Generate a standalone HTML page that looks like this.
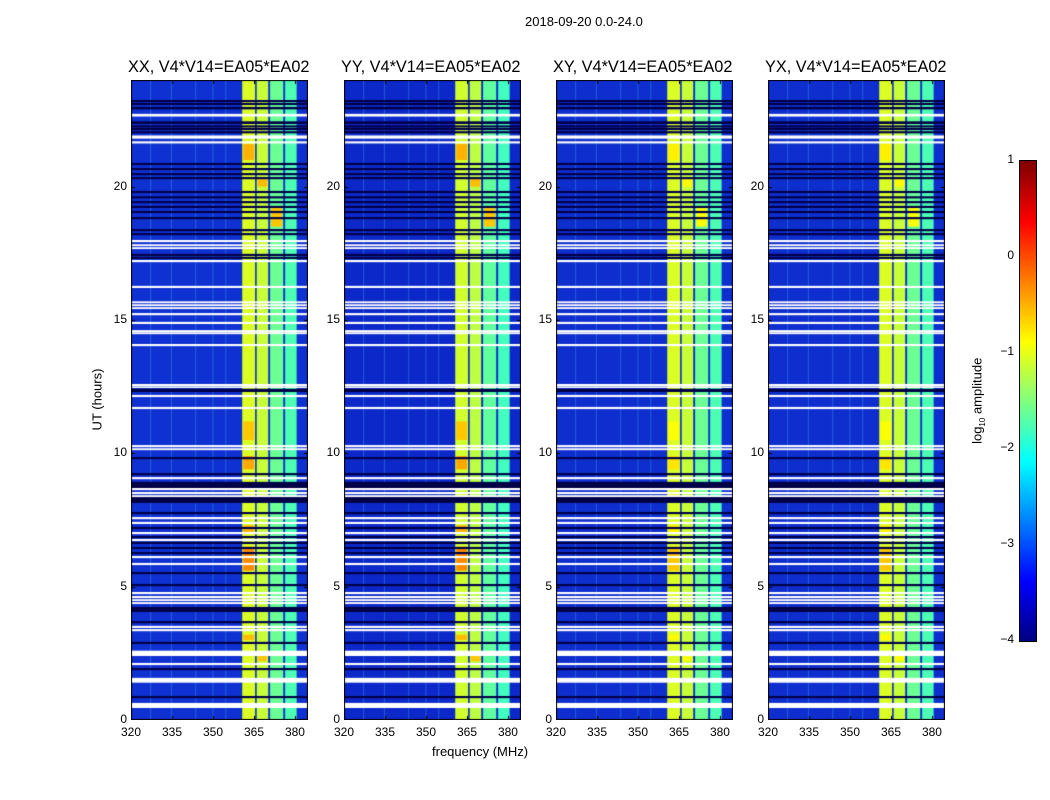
<!DOCTYPE html>
<html><head><meta charset="utf-8">
<style>
body{margin:0;background:#fff;font-family:"Liberation Sans",sans-serif;}
#wrap{position:relative;width:1050px;height:800px;overflow:hidden;}
.t{position:absolute;font-size:12px;color:#000;white-space:nowrap;}
.pt{position:absolute;font-size:16.3px;white-space:nowrap;}
canvas{position:absolute;}
</style></head><body>
<div id="wrap">
<div class="t" style="left:525px;top:14px;font-size:13px">2018-09-20 0.0-24.0</div>
<div class="t" style="left:66px;top:392px;transform:rotate(-90deg);font-size:13px">UT (hours)</div>
<div class="t" style="left:432px;top:744px;font-size:13px">frequency (MHz)</div>
<div class="t" style="left:935px;top:392px;transform:rotate(-90deg);font-size:13px">log<sub style="font-size:8px">10</sub> amplitude</div>
<canvas id="cb" width="16" height="480" style="left:1019px;top:160px;border:1px solid #000;box-sizing:border-box"></canvas>
</div>
<script>
const panelTitles=["XX, V4*V14=EA05*EA02","YY, V4*V14=EA05*EA02","XY, V4*V14=EA05*EA02","YX, V4*V14=EA05*EA02"];
const panelLefts=[131,344,556,768];
const xTicks=[320,335,350,365,380];
const yTicks=[0,5,10,15,20];
const cbTicks=[1,0,-1,-2,-3,-4];
const bgLevel=[-3.3,-3.45,-3.35,-3.35];
const subbands=[[360.7,365.4],[366.0,370.2],[370.9,375.7],[376.4,380.6]];
const subLevels=[-1.05,-1.15,-1.6,-1.75];
const whiteRows=[[22.63,22.73],[21.8,21.92],[21.62,21.7],[17.92,18.0],[17.77,17.84],[17.66,17.73],[17.17,17.25],[16.2,16.28],[15.63,15.7],[15.52,15.59],[15.41,15.48],[15.18,15.26],[14.85,14.93],[14.55,14.62],[14.47,14.54],[14.02,14.1],[12.52,12.6],[12.45,12.51],[12.11,12.19],[11.66,11.74],[10.23,10.31],[10.12,10.19],[9.03,9.11],[8.62,8.7],[8.47,8.55],[8.36,8.43],[7.53,7.61],[7.35,7.43],[6.97,7.05],[6.71,6.79],[6.07,6.15],[5.81,5.89],[4.72,4.8],[4.57,4.65],[4.46,4.53],[4.35,4.42],[3.45,3.53],[3.33,3.41],[2.4,2.6],[2.06,2.14],[1.4,1.58],[0.45,0.64]];
const darkRows=[[23.17,23.25],[23.06,23.14],[22.9,22.99],[22.35,22.45],[22.22,22.3],[22.12,22.2],[22.0,22.08],[20.81,20.89],[20.62,20.7],[20.43,20.51],[20.28,20.36],[19.76,19.84],[19.56,19.64],[19.38,19.46],[19.2,19.28],[19.01,19.09],[18.78,18.86],[18.33,18.41],[18.18,18.26],[17.4,17.48],[17.29,17.37],[12.3,12.42],[9.78,9.86],[9.18,9.26],[8.7,8.93],[8.14,8.37],[7.72,7.8],[7.16,7.24],[6.82,6.9],[6.6,6.68],[6.41,6.49],[6.22,6.3],[5.47,5.55],[5.02,5.1],[4.05,4.24],[3.63,3.71],[2.85,2.93],[1.87,1.95],[0.82,0.9]];
const hotStart=[21.0,20.0,18.5,10.5,9.4,7.0,5.6,3.0,2.2];
const hotEnd=[21.6,20.3,19.2,11.2,9.9,7.3,6.5,3.2,2.4];
const hotSub=[0,1,2,0,0,0,0,0,1];
const hotLevel=[-0.5,-0.55,-0.6,-0.6,-0.45,-0.5,-0.3,-0.55,-0.6];
const rfiFreqs=[327,334.6,343.5,349.8,354.5];

function jet(v){
  let x=(v+4)/5; x=Math.max(0,Math.min(1,x));
  const c=t=>Math.max(0,Math.min(1,t));
  const r=c(1.5-Math.abs(4*x-3)), g=c(1.5-Math.abs(4*x-2)), b=c(1.5-Math.abs(4*x-1));
  return `rgb(${Math.round(r*255)},${Math.round(g*255)},${Math.round(b*255)})`;
}
function bgColor(v){const k=(v+3.45)*60;return `rgb(${Math.round(12+k*0.3)},${Math.round(40+k)},${Math.round(200+k)})`;}
const wrap=document.getElementById('wrap');
const top0=80,H=640,W=177,f0=320,fpx=2.733;
const yOf=h=>720-h*(H/24);
function lbl(txt,x,y,name,align){
  const d=document.createElement('div');d.className='t';d.textContent=txt;
  
  
  d.style.top=y+'px';
  if(align==='r'){d.style.left=(x-40)+'px';d.style.width='40px';d.style.textAlign='right';}
  else{d.style.left=(x-20)+'px';d.style.width='40px';d.style.textAlign='center';}
  wrap.appendChild(d);
}
panelTitles.forEach((title,p)=>{
  const L=panelLefts[p];
  const cv=document.createElement('canvas');cv.width=W;cv.height=H;
  cv.style.left=L+'px';cv.style.top=top0+'px';
  
  
  wrap.appendChild(cv);
  const g=cv.getContext('2d');
  const xOf=f=>(f-f0)*fpx;
  const yl=h=>yOf(h)-top0;
  g.fillStyle=bgColor(bgLevel[p]);g.fillRect(0,0,W,H);
  rfiFreqs.forEach(f=>{g.fillStyle='rgba(60,140,240,0.5)';g.fillRect(xOf(f),0,1,H);});
  subbands.forEach((s,i)=>{g.fillStyle=jet(subLevels[i]+(p==1?-0.05:0));g.fillRect(xOf(s[0]),0,xOf(s[1])-xOf(s[0]),H);});
  hotStart.forEach((h,i)=>{const s=subbands[hotSub[i]];g.fillStyle=jet(hotLevel[i]+(p>=2?-0.3:0));
    g.fillRect(xOf(s[0])+1,yl(hotEnd[i]),xOf(s[1])-xOf(s[0])-2,yl(h)-yl(hotEnd[i]));});
  darkRows.forEach(r=>{g.fillStyle='rgb(0,0,70)';const y1=yl(r[1]),y2=yl(r[0]);g.fillRect(0,y1,W,Math.max(1.5,y2-y1));});
  whiteRows.forEach(r=>{g.fillStyle='#fff';const y1=yl(r[1]),y2=yl(r[0]);g.fillRect(0,y1,W,Math.max(1.5,y2-y1));});
  g.strokeStyle='#000';g.lineWidth=1;g.strokeRect(0.5,0.5,W-1,H-1);
  g.beginPath();
  xTicks.forEach(f=>{const x=Math.round(xOf(f))+0.5;g.moveTo(x,H);g.lineTo(x,H-4);g.moveTo(x,0);g.lineTo(x,4);});
  yTicks.forEach(h=>{const y=Math.round(yl(h))+0.5;g.moveTo(0,y);g.lineTo(4,y);g.moveTo(W,y);g.lineTo(W-4,y);});
  g.stroke();
  const t=document.createElement('div');t.className='pt';t.textContent=title;
  
  
  t.style.left=(L-3)+'px';t.style.top='58px';wrap.appendChild(t);
  xTicks.forEach(f=>lbl(String(f),L+xOf(f),725,'x-tick-label',''));
  yTicks.forEach(h=>lbl(String(h),L-4,yOf(h)-8,'y-tick-label','r'));
});
const cb=document.getElementById('cb').getContext('2d');
for(let y=0;y<480;y++){cb.fillStyle=jet(1-y/96);cb.fillRect(0,y,16,1);}
cbTicks.forEach(v=>lbl(v<0?'\u2212'+(-v):String(v),1014,160+(1-v)*96-8,'colorbar-tick-label','r'));
</script>
</body></html>
